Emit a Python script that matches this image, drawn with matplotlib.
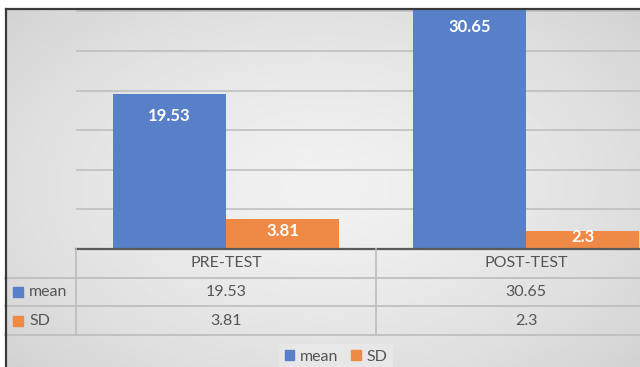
import numpy as np
import matplotlib
matplotlib.use("Agg")
import matplotlib.pyplot as plt
from matplotlib.patches import Patch
from matplotlib.lines import Line2D

plt.rcParams['font.family'] = ['Lato', 'DejaVu Sans']

categories = ['PRE-TEST', 'POST-TEST']
series = ['mean', 'SD']
mean_vals = [19.53, 30.65]
sd_vals = [3.81, 2.3]

blue = '#5880c8'
orange = '#ee8a45'
text_gray = '#555555'
line_gray = '#bcbcbc'

W, H = 640, 367
fig = plt.figure(figsize=(W / 100, H / 100), dpi=100, facecolor='white')


def fx(px):
    return px / W


def fy(py):
    return (H - py) / H


# gray chart area with a soft radial gradient
bg = fig.add_axes([fx(5), 0, 1 - fx(5), fy(9)])
gx, gy = np.meshgrid(np.linspace(-1, 1, 300), np.linspace(-1, 1, 200))
r = np.sqrt((gx * 0.9) ** 2 + (gy * 0.8) ** 2)
shade = 0.945 - 0.09 * np.clip(r, 0, 1.4) ** 1.5
bg.imshow(shade, cmap='gray', vmin=0, vmax=1, aspect='auto',
          extent=[0, 1, 0, 1], interpolation='bilinear')
bg.set_axis_off()

# chart frame (top and left edges)
fig.add_artist(Line2D([fx(5.5), fx(5.5)], [0, fy(8.5)], color='#3a3a3a', lw=1.6))
fig.add_artist(Line2D([fx(5.5), 1], [fy(8.5), fy(8.5)], color='#3a3a3a', lw=1.6))

# plot area
ax = fig.add_axes([fx(76), fy(249), fx(600), (249 - 9) / H])
ax.set_facecolor('none')
x = np.arange(len(categories))
w = 0.377
ax.bar(x - w / 2, mean_vals, w, color=blue, zorder=3)
ax.bar(x + w / 2, sd_vals, w, color=orange, zorder=3)
ax.set_xlim(-0.5, 1.5)
ax.set_ylim(0, 30.3)
ax.set_yticks(np.arange(5, 31, 5))
ax.yaxis.grid(True, color=line_gray, lw=1.1)
ax.set_axisbelow(True)
ax.tick_params(left=False, bottom=False, labelleft=False, labelbottom=False)
for s in ['top', 'right', 'left']:
    ax.spines[s].set_visible(False)
ax.spines['bottom'].set_color('#5a5a5a')
ax.spines['bottom'].set_linewidth(1.6)
ax.spines['bottom'].set_zorder(4)

for i, v in enumerate(mean_vals):
    ax.annotate(f'{v:g}', (x[i] - w / 2, v), xytext=(0, -9.5),
                textcoords='offset points', ha='center', va='top',
                color='white', fontsize=12, fontweight='bold',
                annotation_clip=False, zorder=5)
for i, v in enumerate(sd_vals):
    ax.annotate(f'{v:g}', (x[i] + w / 2, v / 2), xytext=(0, 2),
                textcoords='offset points', ha='center', va='center',
                color='white', fontsize=12, fontweight='bold',
                annotation_clip=False, zorder=5)

# data table under the plot
tax = fig.add_axes([fx(76), fy(335), fx(600), (335 - 249) / H], sharex=ax)
tax.set_facecolor('none')
tax.set_axis_off()
tax.set_ylim(3, 0)
left_edge = -0.5 - 71 / 300
for yy in [1, 2, 3]:
    tax.plot([left_edge, 1.5], [yy, yy], color=line_gray, lw=1.2, clip_on=False)
for xx in [-0.5, 0.5, 1.5]:
    tax.plot([xx, xx], [0, 3], color=line_gray, lw=1.2, clip_on=False)

for i, c in enumerate(categories):
    tax.text(x[i], 0.5, c, ha='center', va='center', color=text_gray, fontsize=11.5)
rows = [mean_vals, sd_vals]
colors = [blue, orange]
for r_i, (name, vals, col) in enumerate(zip(series, rows, colors)):
    yy = r_i + 1.5
    tax.plot([-0.5 - 58 / 300], [yy], marker='s', ms=6.8, color=col,
             clip_on=False, lw=0)
    tax.text(-0.5 - 47 / 300, yy, name, ha='left', va='center',
             color=text_gray, fontsize=11.5)
    for i, v in enumerate(vals):
        tax.text(x[i], yy, f'{v:g}', ha='center', va='center',
                 color=text_gray, fontsize=11.5)

# legend at the bottom
handles = [Patch(color=blue), Patch(color=orange)]
leg = fig.legend(handles, series, loc='center', bbox_to_anchor=(fx(336), fy(357)),
                 ncol=2, frameon=True, fontsize=11.5, handlelength=0.6,
                 handleheight=0.6, handletextpad=0.35, columnspacing=0.8,
                 borderpad=0.35, fancybox=False)
leg.get_frame().set_facecolor('#e9e9e9')
leg.get_frame().set_edgecolor('none')
for t in leg.get_texts():
    t.set_color(text_gray)

fig.savefig('out.png', dpi=100, facecolor='white')
